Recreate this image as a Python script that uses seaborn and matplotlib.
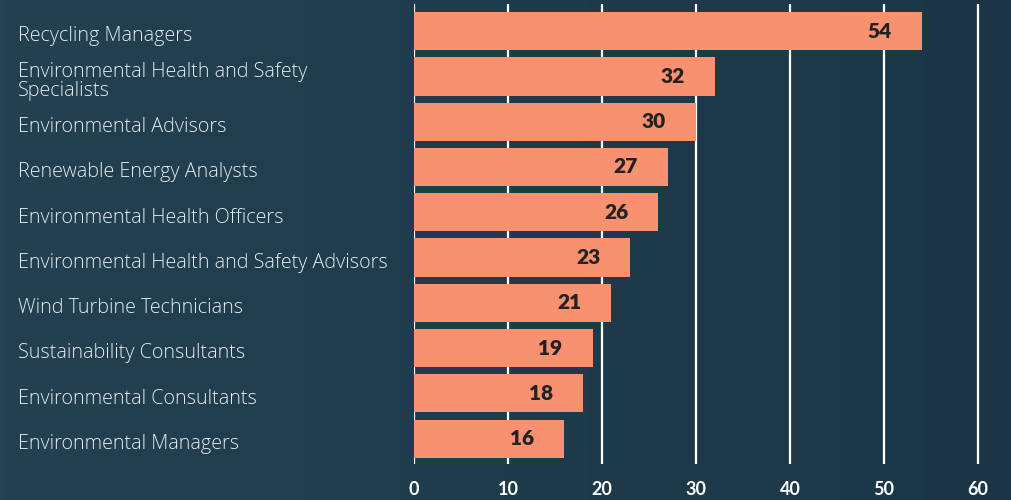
import numpy as np
import pandas as pd
import seaborn as sns
import matplotlib.pyplot as plt
from matplotlib.colors import LinearSegmentedColormap
from matplotlib.transforms import ScaledTranslation

# data
jobs = [
    "Recycling Managers",
    "Environmental Health and Safety\nSpecialists",
    "Environmental Advisors",
    "Renewable Energy Analysts",
    "Environmental Health Officers",
    "Environmental Health and Safety Advisors",
    "Wind Turbine Technicians",
    "Sustainability Consultants",
    "Environmental Consultants",
    "Environmental Managers",
]
counts = [54, 32, 30, 27, 26, 23, 21, 19, 18, 16]
x_ticks = [0, 10, 20, 30, 40, 50, 60]

df = pd.DataFrame({"job": jobs, "count": counts})

sns.set_theme(style="dark")
plt.rcParams["font.family"] = ["Lato", "DejaVu Sans"]

fig = plt.figure(figsize=(10.11, 5.0), dpi=100)

# background gradient
bg = fig.add_axes([0, 0, 1, 1], zorder=-10)
grad = np.linspace(0, 1, 256).reshape(1, -1)
bg_cmap = LinearSegmentedColormap.from_list("bg", ["#234151", "#1f3c4c", "#1c3646"])
bg.imshow(grad, aspect="auto", cmap=bg_cmap, extent=[0, 1, 0, 1])
bg.axis("off")

ax = fig.add_axes([0.4095, 0.072, 0.5598, 0.92])
ax.set_facecolor("none")
sns.barplot(data=df, x="count", y="job", color="#f7916f", saturation=1,
            width=0.845, linewidth=0, ax=ax, zorder=3)

ax.set_xlim(0, 60.2)
ax.set_xticks(x_ticks)
ax.grid(axis="x", color="white", linewidth=1.6, zorder=0)
ax.grid(axis="y", visible=False)
ax.set_ylim(9.56, -0.6)
for s in ax.spines.values():
    s.set_visible(False)
ax.set_xlabel("")
ax.set_ylabel("")
ax.tick_params(axis="x", colors="white", labelsize=13, pad=12, length=0)
for t in ax.get_xticklabels():
    t.set_fontweight("bold")
ax.tick_params(axis="y", colors="#e6ecef", labelsize=14.2, length=0, pad=0)
shift = ScaledTranslation(0, -2 / 72, fig.dpi_scale_trans)
for t in ax.get_yticklabels():
    t.set_horizontalalignment("left")
    t.set_fontfamily(["Open Sans", "DejaVu Sans"])
    t.set_fontweight("light")
    t.set_linespacing(0.95)
    t.set_x(-0.70)
    t.set_transform(t.get_transform() + shift)

for i, v in enumerate(counts):
    ax.text(v - 3.2, i, str(v), ha="right", va="center", color="#222222",
            fontsize=15, fontweight="heavy", zorder=4)

fig.savefig("out.png", dpi=100, facecolor="#223f4e")
